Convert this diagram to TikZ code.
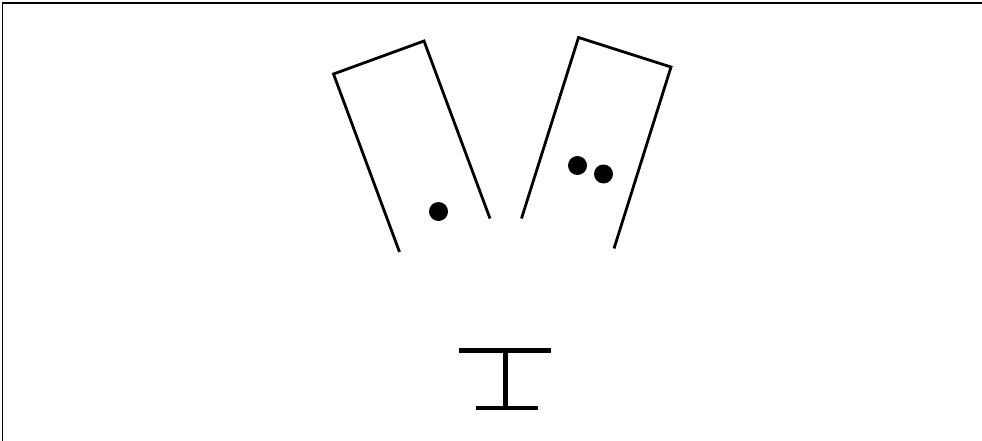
\documentclass[tikz,border=0pt]{standalone}
\usepackage{tikz}
\usetikzlibrary{positioning}

\begin{document}
\begin{tikzpicture}[x=1pt, y=-1pt,
            wall/.style={draw, line width=2.8pt, line join=miter},
            beam/.style={draw, line width=4.2pt},
            ball/.style={circle, fill=black, inner sep=0pt, minimum size=19pt},
            frame/.style={draw, line width=1.3pt}]

        \useasboundingbox (0,0) rectangle (982,441);

        % frame edges
        \draw[frame] (2.5,441) -- (2.5,3) -- (982,3);

        % left box
        \coordinate (lbotl) at (399.5,252);
        \coordinate (ltopl) at (333.5,74);
        \coordinate (ltopr) at (424,41);
        \coordinate (lbotr) at (490,218.5);
        \draw[wall] (lbotl) -- (ltopl) -- (ltopr) -- (lbotr);
        \node[ball] (lball) at (438.5,211.5) {};

        % right box
        \coordinate (rbotl) at (521.5,218.5);
        \coordinate (rtopl) at (578.5,37.5);
        \coordinate (rtopr) at (671,67);
        \coordinate (rbotr) at (614,248.5);
        \draw[wall] (rbotl) -- (rtopl) -- (rtopr) -- (rbotr);
        \node[ball] (rballa) at (577.5,165.5) {};
        \node[ball] (rballb) at (603.5,174) {};

        % stand
        \coordinate (topa) at (459,350.5);
        \coordinate (topb) at (551,350.5);
        \coordinate (bota) at (475.5,408);
        \coordinate (botb) at (537.5,408);
        \draw[beam] (topa) -- (topb);
        \draw[beam] (bota) -- (botb);
        \draw[beam] (505.5,350.5) -- (505.5,408);
    \end{tikzpicture}
\end{document}
